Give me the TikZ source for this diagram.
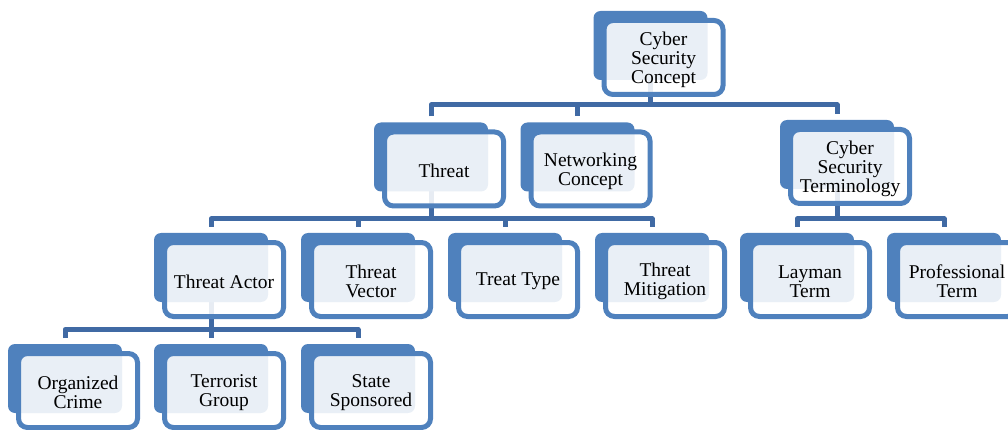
\documentclass[tikz,border=0pt]{standalone}
\usepackage{fontspec}
\setmainfont{Liberation Serif}
\definecolor{accent}{RGB}{79,129,189}
\definecolor{linkblue}{RGB}{64,106,164}
\pgfdeclarelayer{bg}
\pgfsetlayers{bg,main}
% one box of the chart: a filled back card, a framed translucent front card, and its label
\newcommand\tier[4]{%
  \node[backbox] (b#1) at (#2,#3) {};
  \node[frontbox] (f#1) at ([xshift=13pt,yshift=-12pt]b#1.center) {};
  \node[boxtext] (t#1) at ([yshift=-2pt]f#1.center) {#4};}
\begin{document}
\begin{tikzpicture}[x=1pt,y=-1pt,
  backbox/.style={fill=accent, rounded corners=7pt, minimum width=114pt,
    minimum height=69pt, inner sep=0pt, outer sep=0pt},
  frontbox/.style={draw=accent, line width=5pt, fill=white, fill opacity=0.88,
    rounded corners=9pt, minimum width=119pt, minimum height=74pt,
    inner sep=0pt, outer sep=0pt},
  boxtext/.style={inner sep=0pt, align=center,
    font=\fontsize{19.5}{19}\selectfont},
  link/.style={draw=linkblue, line width=5pt, line join=round}]
\useasboundingbox (0,0) rectangle (1008,430);
\clip (0,0) rectangle (1008,430);

% level 1
\tier{root}{650.5}{45.5}{Cyber\\Security\\Concept}
% level 2
\tier{threat}{431}{157}{Threat}
\tier{net}{577.5}{157}{Networking\\Concept}
\tier{term}{837}{154.5}{Cyber\\Security\\Terminology}
% level 3
\tier{actor}{211}{267.5}{Threat Actor}
\tier{vector}{358}{267.5}{Threat\\Vector}
\tier{ttype}{505}{267.5}{Treat Type}
\tier{mitig}{652}{267.5}{Threat\\Mitigation}
\tier{layman}{797}{267.5}{Layman\\Term}
\tier{prof}{944}{267.5}{Professional\\Term}
% level 4
\tier{crime}{65}{378.5}{Organized\\Crime}
\tier{terror}{211}{378.5}{Terrorist\\Group}
\tier{state}{358}{378.5}{State\\Sponsored}

% connectors, kept underneath the cards
\coordinate (busA) at (0,105);
\coordinate (busB) at (0,219);
\coordinate (busC) at (0,329.5);
\begin{pgfonlayer}{bg}
  % root -> threat, networking, terminology
  \draw[link] (broot.south) -- (broot.south |- busA);
  \draw[link] ([yshift=6pt]bthreat.north) -- (bthreat.north |- busA)
    -- (bterm.north |- busA) -- ([yshift=6pt]bterm.north);
  \draw[link] (bnet.north |- busA) -- ([yshift=6pt]bnet.north);
  % threat -> actor, vector, type, mitigation
  \draw[link] (bthreat.south) -- (bthreat.south |- busB);
  \draw[link] ([yshift=6pt]bactor.north) -- (bactor.north |- busB)
    -- (bmitig.north |- busB) -- ([yshift=6pt]bmitig.north);
  \draw[link] (bvector.north |- busB) -- ([yshift=6pt]bvector.north);
  \draw[link] (bttype.north |- busB) -- ([yshift=6pt]bttype.north);
  % terminology -> layman, professional
  \draw[link] (bterm.south) -- (bterm.south |- busB);
  \draw[link] ([yshift=6pt]blayman.north) -- (blayman.north |- busB)
    -- (bprof.north |- busB) -- ([yshift=6pt]bprof.north);
  % actor -> crime, terrorist, state
  \draw[link] (bactor.south) -- (bactor.south |- busC);
  \draw[link] ([yshift=6pt]bcrime.north) -- (bcrime.north |- busC)
    -- (bstate.north |- busC) -- ([yshift=6pt]bstate.north);
  \draw[link] (bterror.north |- busC) -- ([yshift=6pt]bterror.north);
\end{pgfonlayer}
\end{tikzpicture}
\end{document}
